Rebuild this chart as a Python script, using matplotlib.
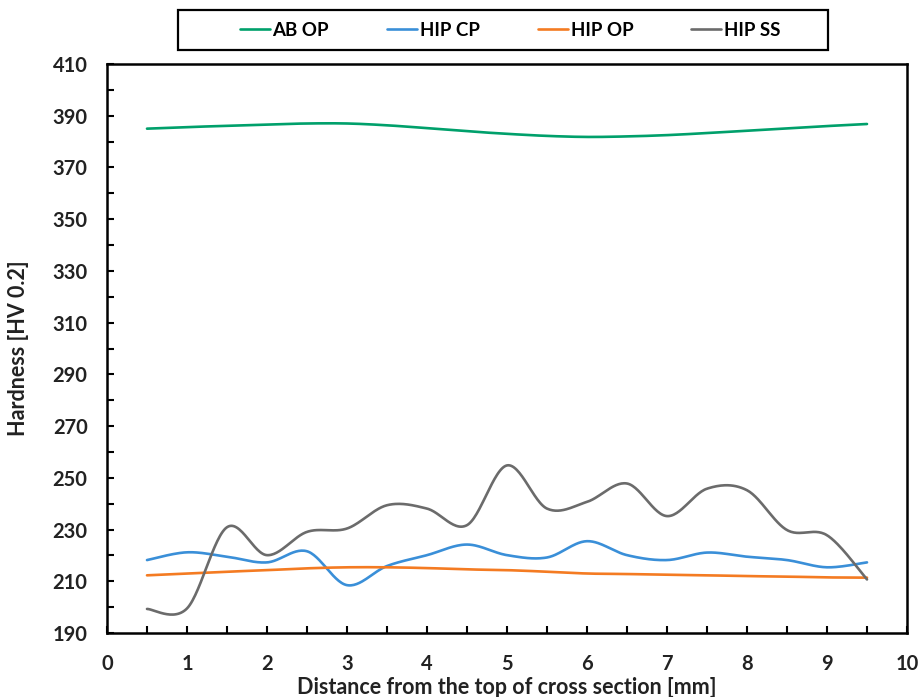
import numpy as np
import matplotlib
matplotlib.use("Agg")
import matplotlib.pyplot as plt
from matplotlib.ticker import MultipleLocator
from matplotlib.patches import Rectangle

plt.rcParams['font.family'] = ['Lato', 'DejaVu Sans']

distance = [0.5, 1.0, 1.5, 2.0, 2.5, 3.0, 3.5, 4.0, 4.5, 5.0,
            5.5, 6.0, 6.5, 7.0, 7.5, 8.0, 8.5, 9.0, 9.5]
ab_op = [385.0, 385.6, 386.1, 386.6, 387.0, 387.0, 386.3, 385.2, 384.0, 383.0,
         382.2, 381.8, 382.0, 382.5, 383.3, 384.2, 385.1, 386.0, 386.8]
hip_cp = [218.2, 221.2, 219.5, 217.3, 221.6, 208.5, 215.9, 220.1, 224.2, 220.1,
          219.2, 225.5, 220.1, 218.2, 221.1, 219.5, 218.2, 215.4, 217.3]
hip_op = [212.3, 213.0, 213.7, 214.3, 215.0, 215.4, 215.4, 215.1, 214.6, 214.3,
          213.7, 213.0, 212.8, 212.5, 212.3, 212.0, 211.8, 211.5, 211.4]
hip_ss = [199.3, 199.5, 230.9, 220.1, 229.1, 230.4, 239.4, 238.1, 231.7, 254.8,
          238.1, 240.7, 247.8, 235.2, 245.8, 245.2, 229.8, 227.8, 210.7]

series_names = ["AB OP", "HIP CP", "HIP OP", "HIP SS"]
series_values = [ab_op, hip_cp, hip_op, hip_ss]
colors = ["#00A06B", "#3A8FD8", "#F47B22", "#6B6B6B"]


def smooth(x, y, n=30):
    # Excel-style smoothed line (Catmull-Rom / cubic Bezier through points)
    x = np.asarray(x, float)
    y = np.asarray(y, float)
    px = np.concatenate([[x[0]], x, [x[-1]]])
    py = np.concatenate([[y[0]], y, [y[-1]]])
    xs, ys = [], []
    t = np.linspace(0, 1, n)
    for i in range(1, len(px) - 2):
        p0 = np.array([px[i], py[i]])
        p3 = np.array([px[i + 1], py[i + 1]])
        c1 = p0 + (np.array([px[i + 1], py[i + 1]]) - np.array([px[i - 1], py[i - 1]])) / 6
        c2 = p3 - (np.array([px[i + 2], py[i + 2]]) - np.array([px[i], py[i]])) / 6
        b = ((1 - t) ** 3)[:, None] * p0 + (3 * (1 - t) ** 2 * t)[:, None] * c1 \
            + (3 * (1 - t) * t ** 2)[:, None] * c2 + (t ** 3)[:, None] * p3
        xs.append(b[:, 0])
        ys.append(b[:, 1])
    return np.concatenate(xs), np.concatenate(ys)


W, H = 921, 697
fig = plt.figure(figsize=(W / 100, H / 100), dpi=100)
ax = fig.add_axes([107 / W, 1 - 633 / H, 800 / W, 569 / H])

for name, vals, c in zip(series_names, series_values, colors):
    sx, sy = smooth(distance, vals)
    ax.plot(sx, sy, color=c, lw=1.9, label=name, solid_capstyle='round')

ax.set_xlim(0, 10)
ax.set_ylim(190, 410)
ax.xaxis.set_major_locator(MultipleLocator(1))
ax.xaxis.set_minor_locator(MultipleLocator(0.5))
ax.yaxis.set_minor_locator(MultipleLocator(10))
ax.set_yticks(np.arange(190, 411, 20))
ax.tick_params(axis='both', which='both', direction='in', width=1.5,
               labelsize=14.5, length=5)
ax.tick_params(axis='y', which='both', pad=14)
ax.tick_params(axis='x', which='both', pad=15)
for lab in ax.get_xticklabels() + ax.get_yticklabels():
    lab.set_fontweight('bold')
    lab.set_color('#222222')
for s in ax.spines.values():
    s.set_linewidth(1.8)
    s.set_color('black')

ax.set_xlabel("Distance from the top of cross section [mm]", fontsize=15.5,
              fontweight='bold', labelpad=0, color='#222222')
ax.set_ylabel("Hardness [HV 0.2]", fontsize=15.5, fontweight='bold',
              labelpad=10, color='#222222')
ax.xaxis.set_label_coords(0.5, -(688 - 633) / 569, transform=ax.transAxes)
ax.xaxis.label.set_va('center')
ax.yaxis.set_label_coords(-(107 - 19) / 800, 0.5, transform=ax.transAxes)
ax.yaxis.label.set_va('center')

# legend box
fig.patches.append(Rectangle((178 / W, 1 - 50 / H), 650 / W, 40 / H,
                             transform=fig.transFigure, fill=False,
                             edgecolor='black', lw=1.6))
leg = fig.legend(loc='center', bbox_to_anchor=(510 / W, 1 - 30 / H), ncol=4,
                 frameon=False, prop={'weight': 'bold', 'size': 13.5},
                 handlelength=1.6, handletextpad=0.15, columnspacing=3.1)

fig.savefig("out.png", dpi=100)
